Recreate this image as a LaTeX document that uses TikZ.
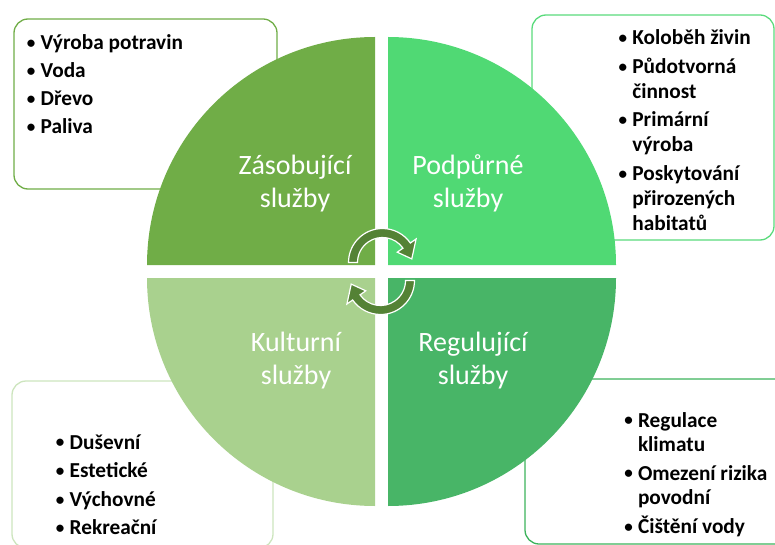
\documentclass[tikz,border=0pt]{standalone}
\usepackage{fontspec}
\setmainfont{Carlito}
\usetikzlibrary{calc}
\definecolor{qTL}{HTML}{70AD47}
\definecolor{qTR}{HTML}{50D974}
\definecolor{qBL}{HTML}{A9D18E}
\definecolor{qBR}{HTML}{48B567}
\definecolor{bTL}{HTML}{70AD47}
\definecolor{bTR}{HTML}{5ADB7C}
\definecolor{bBL}{HTML}{CDE5BE}
\definecolor{bBR}{HTML}{3DB35C}
\definecolor{arrowgreen}{HTML}{548235}
\newcommand\bitem{\makebox[19pt]{\raisebox{1.2pt}{\scalebox{0.8}{•}}}}
\begin{document}
\begin{tikzpicture}[x=1pt,y=-1pt,
  listbox/.style={line width=1.3pt, fill=white, rounded corners=14pt},
  items/.style={anchor=base west, inner sep=0pt, text=black,
    font=\fontsize{21.3}{24.8}\selectfont\bfseries},
  qlabel/.style={anchor=base, inner sep=0pt, text=white,
    font=\fontsize{28}{33}\selectfont},
  cyclearrow/.style={fill=arrowgreen, draw=white, line width=1.2pt, line join=miter}]
\useasboundingbox (0,0) rectangle (775,545);

% list boxes (behind the circle)
\draw[listbox, draw=bTL] (14,19) rectangle (277,189);
\draw[listbox, draw=bTR] (532,15) rectangle (774,240);
\draw[listbox, draw=bBL] (12,381) rectangle (273,548);
\draw[listbox, draw=bBR] (525,379) rectangle (790,544);

% quadrants
\fill[qTL] (375,265) -- ++(180:228) arc[start angle=180, end angle=270, radius=228] -- cycle;
\fill[qTR] (388,265) -- ++(270:228) arc[start angle=270, end angle=360, radius=228] -- cycle;
\fill[qBR] (388,278) -- ++(0:228) arc[start angle=0, end angle=90, radius=228] -- cycle;
\fill[qBL] (375,278) -- ++(90:228) arc[start angle=90, end angle=180, radius=228] -- cycle;

% quadrant labels
\node[qlabel] (zas) at (295,175) {\begin{tabular}[t]{@{}c@{}}Zásobující\\služby\end{tabular}};
\node[qlabel] (pod) at (468,175) {\begin{tabular}[t]{@{}c@{}}Podpůrné\\služby\end{tabular}};
\node[qlabel] (kul) at (296,351) {\begin{tabular}[t]{@{}c@{}}Kulturní\\služby\end{tabular}};
\node[qlabel] (reg) at (473,351) {\begin{tabular}[t]{@{}c@{}}Regulující\\služby\end{tabular}};

% cycle arrows
\coordinate (c1) at (382.5,262.5);
\coordinate (c2) at (380.5,280.5);
\draw[cyclearrow] ($(c1)+(180:34)$) arc[start angle=180, end angle=325, radius=34]
  -- ($(c1)+(325:41)$) -- ($(c1)+(353:29.5)$) -- ($(c1)+(325:18)$) -- ($(c1)+(325:25)$)
  arc[start angle=325, end angle=180, radius=25] -- cycle;
\draw[cyclearrow] ($(c2)+(0:34)$) arc[start angle=0, end angle=145, radius=34]
  -- ($(c2)+(145:41)$) -- ($(c2)+(173:29.5)$) -- ($(c2)+(145:18)$) -- ($(c2)+(145:25)$)
  arc[start angle=145, end angle=0, radius=25] -- cycle;

% lists
\node[items] (l1) at (21.5,49.3) {\begin{tabular}[t]{@{}l@{}l@{}}
\bitem & Výroba potravin\\[3.2pt]
\bitem & Voda\\[3.2pt]
\bitem & Dřevo\\[3.2pt]
\bitem & Paliva
\end{tabular}};
\node[items] (l2) at (613.2,45) {\begin{tabular}[t]{@{}l@{}l@{}}
\bitem & Koloběh živin\\[3.5pt]
\bitem & Půdotvorná\\
       & činnost\\[4pt]
\bitem & Primární\\
       & výroba\\[4pt]
\bitem & Poskytování\\
       & přirozených\\
       & habitatů
\end{tabular}};
\node[items] (l3) at (50.5,449) {\begin{tabular}[t]{@{}l@{}l@{}}
\bitem & Duševní\\[3.8pt]
\bitem & Estetické\\[3.8pt]
\bitem & Výchovné\\[3.8pt]
\bitem & Rekreační
\end{tabular}};
\node[items] (l4) at (618.8,427) {\begin{tabular}[t]{@{}l@{}l@{}}
\bitem & Regulace\\
       & klimatu\\[3.5pt]
\bitem & Omezení rizika\\
       & povodní\\[3.5pt]
\bitem & Čištění vody
\end{tabular}};
\end{tikzpicture}
\end{document}
